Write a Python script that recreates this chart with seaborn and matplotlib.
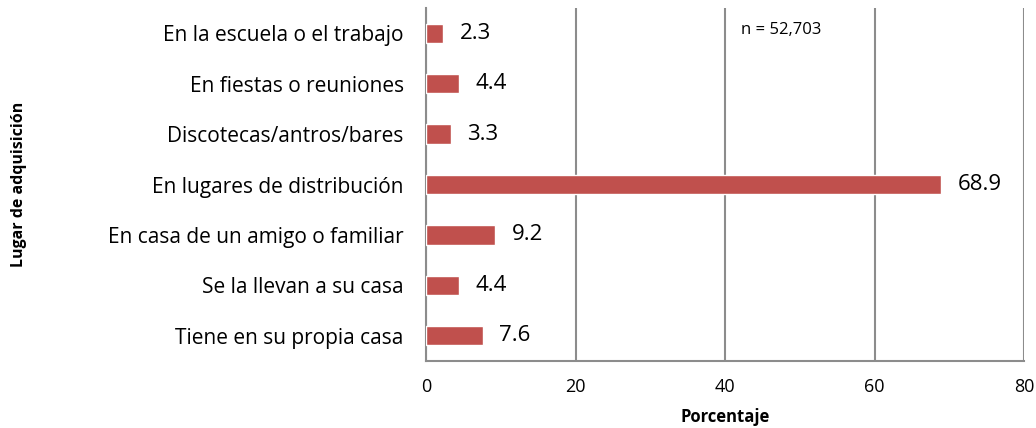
import matplotlib
matplotlib.use("Agg")
import matplotlib.pyplot as plt
import seaborn as sns
import pandas as pd

categorias = [
    "En la escuela o el trabajo",
    "En fiestas o reuniones",
    "Discotecas/antros/bares",
    "En lugares de distribución",
    "En casa de un amigo o familiar",
    "Se la llevan a su casa",
    "Tiene en su propia casa",
]
porcentajes = [2.3, 4.4, 3.3, 68.9, 9.2, 4.4, 7.6]
x_ticks = [0, 20, 40, 60, 80]

sns.set_style("white")
plt.rcParams['font.family'] = ['Open Sans', 'DejaVu Sans']
plt.rcParams['text.color'] = 'black'
plt.rcParams['axes.labelcolor'] = 'black'
plt.rcParams['xtick.labelcolor'] = 'black'
plt.rcParams['ytick.labelcolor'] = 'black'

df = pd.DataFrame({"Lugar": categorias, "Porcentaje": porcentajes})

fig = plt.figure(figsize=(10.36, 4.28), dpi=100)
ax = fig.add_axes([426/1036, 1-361/428, (1024-426)/1036, (361-8)/428])

sns.barplot(data=df, y="Lugar", x="Porcentaje", orient="h", color="#C0504D",
            saturation=1, width=0.38, ax=ax, zorder=3)

for i, v in enumerate(porcentajes):
    ax.annotate(f"{v:.1f}", xy=(v, i), xytext=(12, 0), textcoords="offset points",
                va="center", ha="left", fontsize=16, color="black")

ax.set_xlim(0, 80)
ax.set_xticks(x_ticks)
ax.set_xticklabels([str(t) for t in x_ticks], fontsize=13)
ax.grid(axis="x", color="#8c8c8c", linewidth=1.5, zorder=0)
ax.set_axisbelow(True)
for s in ["top", "right"]:
    ax.spines[s].set_visible(False)
for s in ["left", "bottom"]:
    ax.spines[s].set_color("#8c8c8c")
    ax.spines[s].set_linewidth(1.5)
ax.tick_params(axis="x", length=5, width=1.5, color="#8c8c8c", pad=7, direction="out",
               labelcolor="black")
ax.tick_params(axis="y", length=0, pad=16, labelsize=15, labelcolor="black")
ax.set_ylabel("Lugar de adquisición", fontsize=11.5, fontweight="bold", labelpad=0,
              color="black")
ax.yaxis.set_label_coords(-(426-27)/598, 0.5)
ax.set_xlabel("Porcentaje", fontsize=12, fontweight="bold", labelpad=9, color="black")

ax.text((741-426)/598, 0.938, "n = 52,703", transform=ax.transAxes, fontsize=12,
        va="center", ha="left", color="black")

fig.savefig("out.png", dpi=100)
